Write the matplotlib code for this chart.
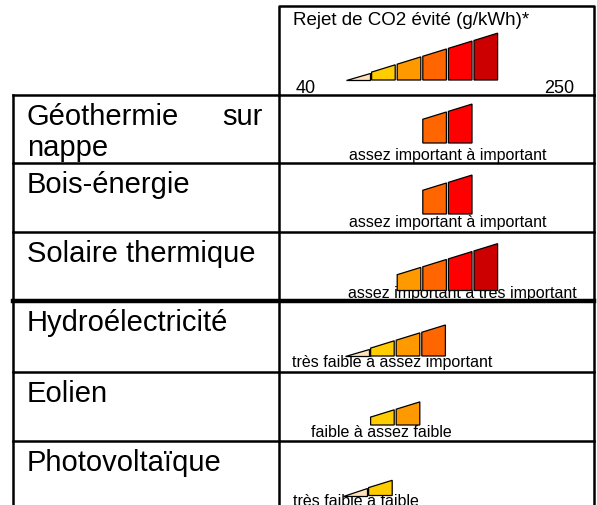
#
#  Filières EnR : rejet de CO2 évité, pictogrammes par filière.
#
import matplotlib
matplotlib.use("Agg")
import matplotlib.pyplot as plt
from matplotlib.patches import Polygon

plt.rcParams['font.family'] = ['Liberation Sans', 'DejaVu Sans']

# donnees
filieres = [["Géothermie sur", "nappe"], ["Bois-énergie"], ["Solaire thermique"],
            ["Hydroélectricité"], ["Eolien"], ["Photovoltaïque"]]
classe_min = [3, 3, 2, 0, 1, 0]
classe_max = [4, 4, 5, 3, 2, 1]
libelles = ["assez important à important", "assez important à important",
            "assez important à très important", "très faible à assez important",
            "faible à assez faible", "très faible à faible"]
couleurs = ["#FFE2BA", "#FFCC00", "#FF9900", "#FF6600", "#FF0000", "#CC0000"]
titre = "Rejet de CO2 évité (g/kWh)*"
echelle = ["40", "250"]

# mise en page (pixels)
W, H = 597, 506
lignes_y = [96, 164, 233, 302, 373, 442]
x_g, x_m, x_d = 13, 279, 594
base_barres = [144, 215, 291.5, 357, 426, 496.5]
decal_x = [0, 0, 0, -1, -1, -3]
texte_x = [447.5, 447.5, 462.5, 392.5, 381.5, 355.5]
texte_y = [160, 227, 298, 367, 437, 506]
x0, pas, larg, pente = 346, 25.6, 23.6, 0.309

fig = plt.figure(figsize=(W / 100, H / 100), dpi=100)
ax = fig.add_axes([0, 0, 1, 1])
ax.set_xlim(0, W)
ax.set_ylim(H, 0)
ax.axis("off")

def barres(classes, base, dx):
    for i in classes:
        xl = x0 + dx + i * pas
        xr = xl + larg
        pts = [(xl, base), (xr, base), (xr, base - pente * (xr - x0 - dx)),
               (xl, base - pente * (xl - x0 - dx))]
        ax.add_patch(Polygon(pts, closed=True, facecolor=couleurs[i],
                             edgecolor="black", lw=0.9, zorder=3))

# cadre de la legende
lw = 1.8
ax.plot([x_m, x_m, x_d, x_d], [lignes_y[0], 7, 7, lignes_y[0]], color="black", lw=lw)
ax.text(293, 25, titre, fontsize=13.5, ha="left", va="baseline")
ax.text(296, 93, echelle[0], fontsize=13, ha="left", va="baseline")
ax.text(574, 93, echelle[1], fontsize=13, ha="right", va="baseline")
barres(range(len(couleurs)), 81, 0)

# tableau
for k, y in enumerate(lignes_y):
    ax.plot([x_g, x_d], [y, y], color="black", lw=3.2 if k == 3 else lw, zorder=4)
for x in (x_g, x_m, x_d):
    ax.plot([x, x], [lignes_y[0], H], color="black", lw=lw, zorder=4)

for k, lab in enumerate(filieres):
    y = lignes_y[k] + 29
    for j, ligne in enumerate(lab):
        mots = ligne.split()
        if j < len(lab) - 1 and len(mots) > 1:
            ax.text(27, y, mots[0], fontsize=21, ha="left", va="baseline")
            ax.text(263, y, mots[-1], fontsize=21, ha="right", va="baseline")
        else:
            ax.text(27, y, ligne, fontsize=21, ha="left", va="baseline")
        y += 31
    ax.text(texte_x[k], texte_y[k], libelles[k], fontsize=11.5, ha="center",
            va="baseline", zorder=2)
    barres(range(classe_min[k], classe_max[k] + 1), base_barres[k], decal_x[k])

fig.savefig("out.png", dpi=100)
